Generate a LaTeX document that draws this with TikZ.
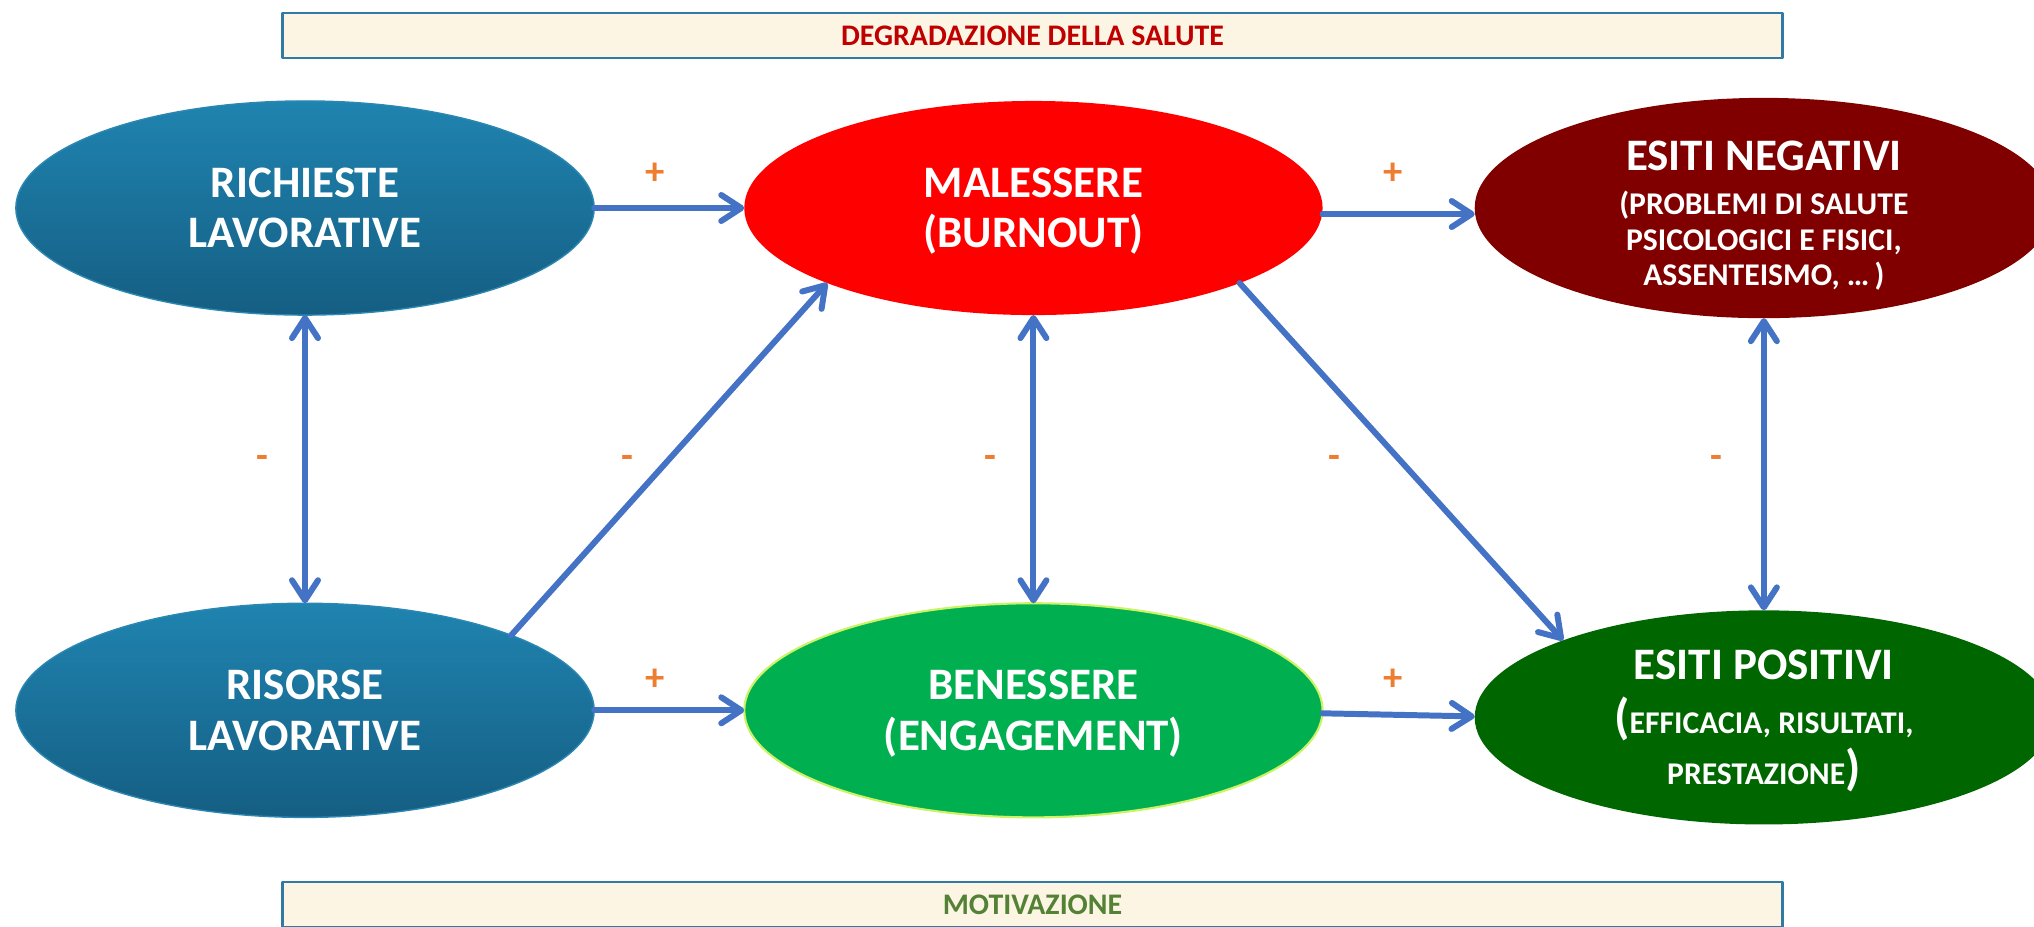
\documentclass[tikz,border=0pt]{standalone}
\usepackage{fontspec}
\setmainfont{Carlito}
\usepackage{xcolor}
\usepackage{tikz}
\usetikzlibrary{positioning,shapes.geometric,arrows.meta}

\definecolor{bluAlto}{RGB}{31,132,176}
\definecolor{bluBasso}{RGB}{21,94,131}
\definecolor{bluBordo}{RGB}{44,136,178}
\definecolor{rossoVivo}{RGB}{255,0,0}
\definecolor{bordeaux}{RGB}{128,0,0}
\definecolor{verdeChiaro}{RGB}{0,176,80}
\definecolor{verdeBordo}{RGB}{204,242,102}
\definecolor{verdeScuro}{RGB}{0,102,0}
\definecolor{crema}{RGB}{253,245,228}
\definecolor{bordoFascia}{RGB}{49,122,163}
\definecolor{rossoTesto}{RGB}{192,0,0}
\definecolor{verdeTesto}{RGB}{83,129,53}
\definecolor{arancio}{RGB}{237,125,49}
\definecolor{bluFreccia}{RGB}{68,114,196}

\newcommand{\piccolo}{\fontsize{9}{10.2}\selectfont}
\newcommand{\parentesi}[1]{{\fontsize{14}{14}\selectfont #1}}

\begin{document}
\begin{tikzpicture}[x=0.01cm,y=-0.01cm, line cap=round, line join=round]
				\useasboundingbox (0,0) rectangle (2034,926);
				
				% ===== stili =====
				\tikzset{
					punta/.tip={Straight Barb[length=2mm,width=2.6mm,round]},
					stato/.style={ellipse, minimum width=5.78cm, minimum height=2.14cm, inner sep=0pt, outer sep=0pt, align=center, text=white, text depth=0pt, font=\fontsize{12.8}{14.3}\selectfont\bfseries},
					fascia/.style={draw=bordoFascia, line width=0.7pt, fill=crema, minimum width=14.99cm, minimum height=0.45cm, inner sep=0pt, font=\fontsize{8.5}{10}\selectfont\bfseries},
					freccia/.style={draw=bluFreccia, line width=1.7pt, -punta},
					doppia/.style={freccia, punta-punta},
					segno/.style={text=arancio, inner sep=0pt, font=\fontsize{11}{11}\selectfont\bfseries}
				}
				
				% ===== fasce sopra e sotto =====
				\node[fascia, text=rossoTesto] (salute) at (1032.5,35.5) {DEGRADAZIONE DELLA SALUTE};
				\node[fascia, text=verdeTesto] (motivazione) at (1032.5,904.5) {MOTIVAZIONE};
				
				% ===== riga alta =====
				\node[stato, top color=bluAlto, bottom color=bluBasso, draw=bluBordo, line width=0.4pt] (richieste) at (305,208) {RICHIESTE\\LAVORATIVE};
				\node[stato, fill=rossoVivo, right=1.5cm of richieste] (malessere) {MALESSERE\\(BURNOUT)};
				\node[stato, fill=bordeaux, right=1.52cm of malessere, font=\fontsize{12.8}{10.2}\selectfont\bfseries] (negativi)
					{{}\\[1.3pt]ESITI NEGATIVI\\[2.2pt]\piccolo (PROBLEMI DI SALUTE\\\piccolo PSICOLOGICI E FISICI,\\\piccolo ASSENTEISMO, …\,)};
				
				% ===== riga bassa =====
				\node[stato, top color=bluAlto, bottom color=bluBasso, draw=bluBordo, line width=0.4pt, below=2.88cm of richieste] (risorse) {RISORSE\\LAVORATIVE};
				\node[stato, fill=verdeChiaro, draw=verdeBordo, line width=0.6pt, below=2.88cm of malessere] (benessere) {BENESSERE\\(ENGAGEMENT)};
				\node[stato, fill=verdeScuro, below=2.92cm of negativi, font=\fontsize{12.8}{14.7}\selectfont\bfseries] (positivi)
					{ESITI POSITIVI\\[0.6pt]\piccolo\parentesi{(}EFFICACIA, RISULTATI,\\\piccolo PRESTAZIONE\parentesi{)}};
				
				% ===== frecce =====
				\draw[freccia] (richieste) -- (malessere);
				\draw[freccia] ([yshift=-0.06cm]malessere.east) -- ([yshift=-0.06cm]negativi.west);
				\draw[freccia] (risorse) -- (benessere);
				\draw[freccia] ([yshift=-0.03cm]benessere.east) -- ([yshift=0.01cm]positivi.west);
				\draw[doppia] (richieste) -- (risorse);
				\draw[doppia] (malessere) -- (benessere);
				\draw[doppia] (negativi) -- (positivi);
				\draw[freccia] (risorse.20.3) -- (malessere.200.3);
				\draw[freccia] (malessere.-20.3) -- (positivi.159.7);
				
				% ===== segni + e - =====
				\node[segno] (piuA) at (655,174) {+};
				\node[segno] (piuB) at (1393,174) {+};
				\node[segno] (piuC) at (655,680) {+};
				\node[segno] (piuD) at (1393,680) {+};
				\node[segno] (menoA) at (262,462) {-};
				\node[segno] (menoB) at (627,462) {-};
				\node[segno] (menoC) at (990,462) {-};
				\node[segno] (menoD) at (1334,462) {-};
				\node[segno] (menoE) at (1716,462) {-};
			\end{tikzpicture}
\end{document}
